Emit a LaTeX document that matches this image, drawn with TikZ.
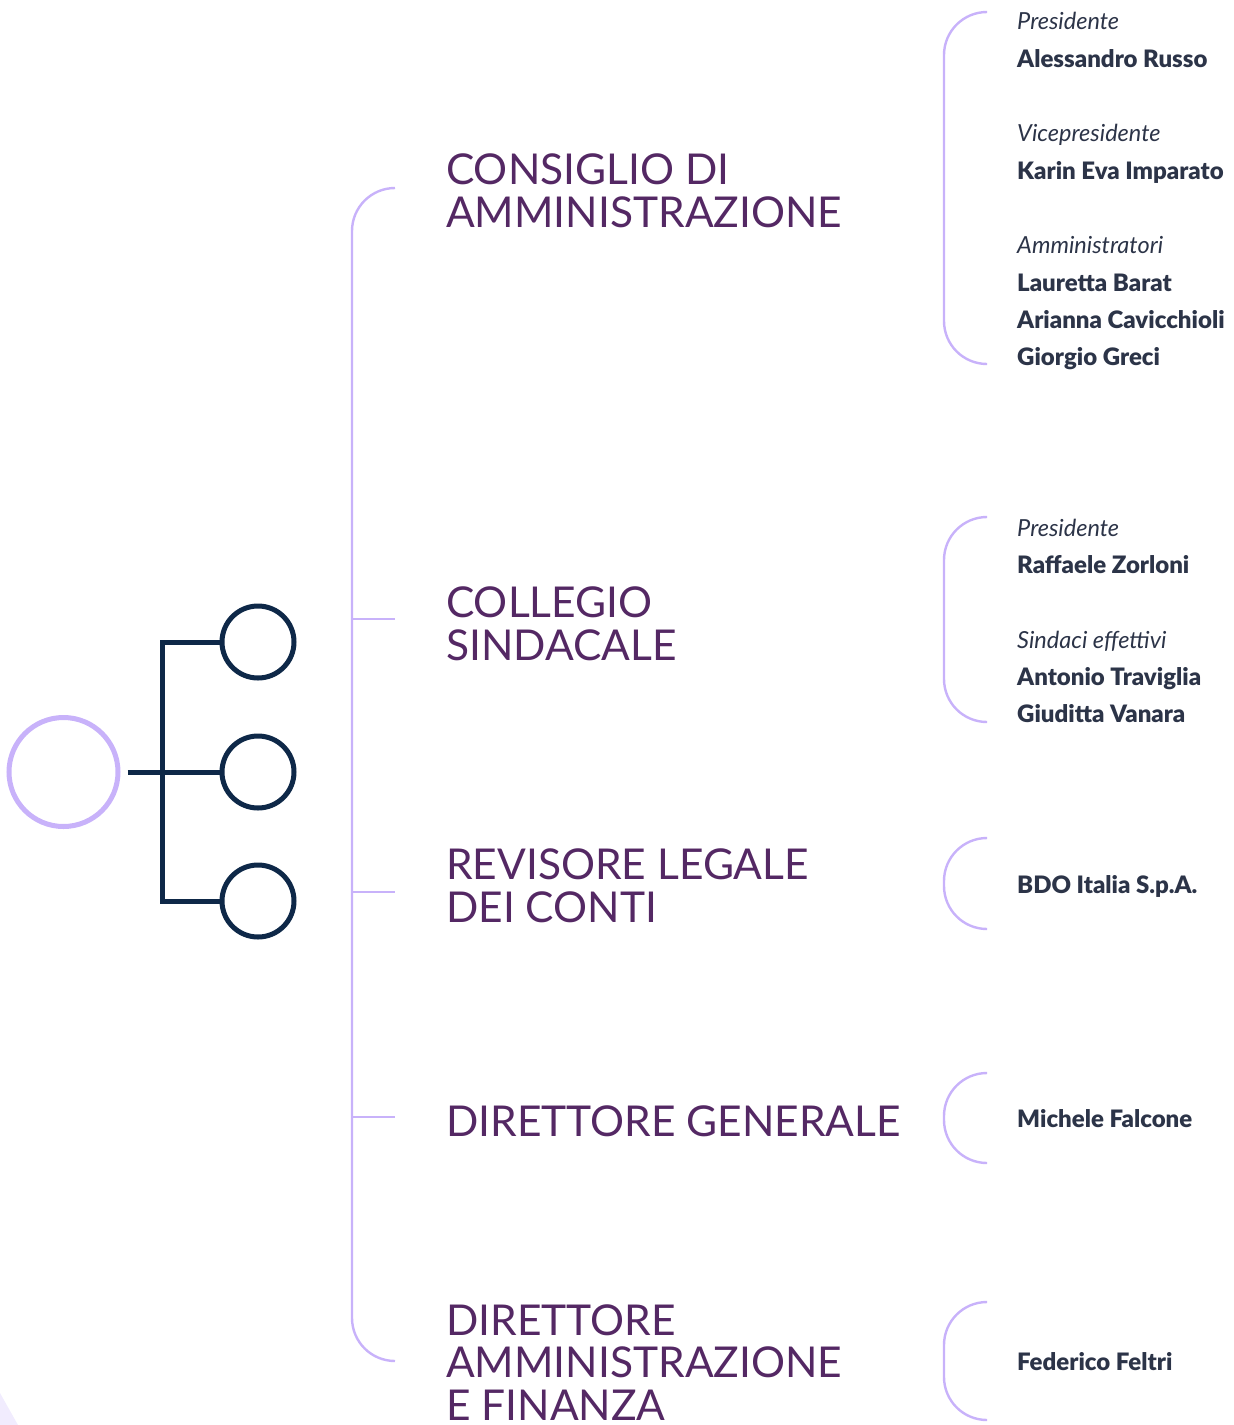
\documentclass[tikz,border=0pt]{standalone}
\usepackage{fontspec}
\setmainfont{Lato}
\newfontfamily\heavyface{Lato Black}
\usepackage{xcolor}
\usetikzlibrary{positioning}
\definecolor{lilac}{RGB}{200,178,250}
\definecolor{plum}{RGB}{84,40,100}
\definecolor{navy}{RGB}{14,40,72}
\definecolor{slate}{RGB}{44,52,72}

\begin{document}
\begin{tikzpicture}[x=1pt,y=-1pt,
 organ/.style={anchor=base west,inner sep=0pt,align=left,text=plum,font=\fontsize{42.5}{42.5}\selectfont},
 role/.style={anchor=base west,inner sep=0pt,text=slate,font=\fontsize{23.5}{25}\selectfont\itshape},
 who/.style={anchor=base west,inner sep=0pt,text=slate,font=\fontsize{24}{26}\selectfont\heavyface},
 brace/.style={draw=lilac,line width=2.4pt,rounded corners=43pt},
 root/.style={circle,draw=lilac,line width=5pt,minimum size=109pt,inner sep=0pt},
 hub/.style={circle,draw=navy,line width=5pt,minimum size=72pt,inner sep=0pt},
 link/.style={draw=navy,line width=5pt}]
\useasboundingbox (0,0) rectangle (1234,1425);
\fill[lilac!25] (0,1393) -- (18,1425) -- (0,1425) -- cycle;
\node[root] (root) at (63.5,772) {};
\node[hub] (h1) at (258,642) {};
\node[hub] (h2) at (258,772) {};
\node[hub] (h3) at (258,901) {};
\draw[link] ([xshift=7pt]root.east) -- (h2.west);
\draw[link] (h1.west) -- ++(-57,0) |- (h3.west);
\coordinate (top) at (395,188);
\coordinate (bot) at (395,1361);
\draw[brace] (top) -- (352,188) -- (352,1361) -- (bot);
\foreach \y/\n in {619/t2,892/t3,1117/t4}
 \draw[lilac,line width=2.4pt] (352,\y) coordinate (\n) -- ++(43,0);
\node[organ] (cda) at (446,227) {CONSIGLIO DI\\AMMINISTRAZIONE};
\node[organ] (cs) at (446,660) {COLLEGIO\\SINDACALE};
\node[organ] (rlc) at (446,922) {REVISORE LEGALE\\DEI CONTI};
\node[organ] (dg) at (446,1136) {DIRETTORE GENERALE};
\node[organ] (daf) at (446,1420) {DIRETTORE\\AMMINISTRAZIONE\\E FINANZA};
\foreach \ya/\yb in {12/364,517/722,838/929,1073/1163,1302/1420}
 \draw[brace] (986,\ya) -- (944,\ya) -- (944,\yb) -- (986,\yb);
\node[role] (pcda) at (1017,29) {Presidente};
\node[who] (russo) at (1017,67) {Alessandro Russo};
\node[role] (vcda) at (1017,141) {Vicepresidente};
\node[who] (imparato) at (1017,179) {Karin Eva Imparato};
\node[role] (acda) at (1017,253) {Amministratori};
\node[who] (barat) at (1017,291) {Lauretta Barat};
\node[who] (cavicchioli) at (1017,328) {Arianna Cavicchioli};
\node[who] (greci) at (1017,365) {Giorgio Greci};
\node[role] (pcs) at (1017,536) {Presidente};
\node[who] (zorloni) at (1017,573) {Raffaele Zorloni};
\node[role] (scs) at (1017,648) {Sindaci effettivi};
\node[who] (traviglia) at (1017,685) {Antonio Traviglia};
\node[who] (vanara) at (1017,722) {Giuditta Vanara};
\node[who] (bdo) at (1017,893) {BDO Italia S.p.A.};
\node[who] (falcone) at (1017,1127) {Michele Falcone};
\node[who] (feltri) at (1017,1370) {Federico Feltri};
\end{tikzpicture}
\end{document}
